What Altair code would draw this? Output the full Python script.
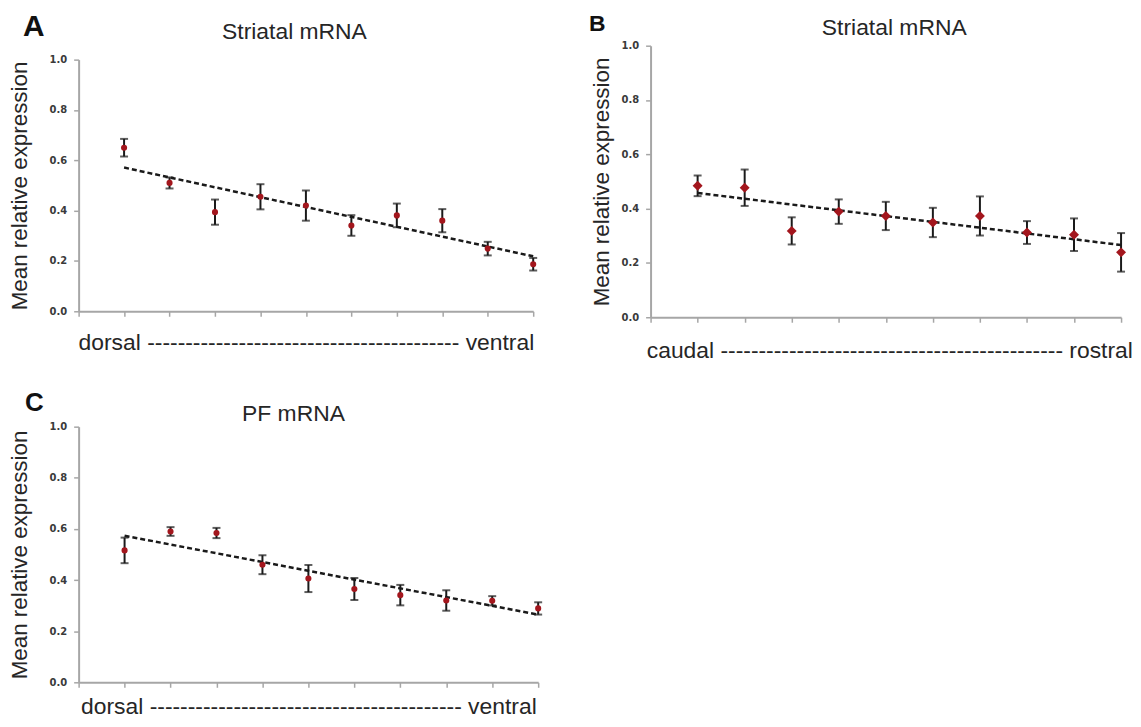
import altair as alt
import pandas as pd

# ---------------- data ----------------
positions = [1, 2, 3, 4, 5, 6, 7, 8, 9, 10]

a_mean = [0.650, 0.510, 0.394, 0.455, 0.420, 0.341, 0.381, 0.360, 0.249, 0.187]
a_err = [0.035, 0.022, 0.050, 0.050, 0.060, 0.041, 0.047, 0.046, 0.027, 0.025]

b_mean = [0.484, 0.477, 0.318, 0.389, 0.373, 0.349, 0.373, 0.312, 0.304, 0.239]
b_err = [0.038, 0.067, 0.050, 0.045, 0.052, 0.054, 0.072, 0.042, 0.060, 0.071]

c_mean = [0.516, 0.590, 0.584, 0.460, 0.406, 0.365, 0.341, 0.320, 0.319, 0.289]
c_err = [0.050, 0.017, 0.020, 0.037, 0.053, 0.043, 0.040, 0.040, 0.018, 0.024]

panel_letters = ["A", "B", "C"]
panel_titles = ["Striatal mRNA", "Striatal mRNA", "PF mRNA"]
x_titles = [
    "dorsal " + "-" * 41 + " ventral",
    "caudal " + "-" * 45 + " rostral",
    "dorsal " + "-" * 41 + " ventral",
]
y_title = "Mean relative expression"
y_ticks = [0.0, 0.2, 0.4, 0.6, 0.8, 1.0]
x_ticks = [0, 1, 2, 3, 4, 5, 6, 7, 8, 9, 10]

# ---------------- style ----------------
FONT = "Liberation Sans"
LABEL_FONT = "DejaVu Sans"
RED = "#a3161d"
INK = "#1a1a1a"
AXIS = "#a6a6a6"
TEXT = "#262626"


def x_axis(title, pad, title_x=None):
    kw = dict(values=x_ticks, labels=False, ticks=True, tickSize=5, tickColor=AXIS,
              tickWidth=1.5, domainColor=AXIS, domainWidth=2, grid=False, title=title,
              titleFont=FONT, titleFontSize=23, titleFontWeight="normal",
              titleColor=TEXT, titlePadding=pad)
    if title_x is not None:
        kw["titleX"] = title_x
    return alt.Axis(**kw)


def y_axis(pad):
    return alt.Axis(values=y_ticks, format=".1f", tickSize=5, tickColor=AXIS, tickWidth=1.5,
                    domainColor=AXIS, domainWidth=2, grid=False, labelFont=LABEL_FONT,
                    labelFontSize=10, labelFontWeight="bold", labelColor="#3a3a3a",
                    labelPadding=7, title=y_title, titleFont=FONT, titleFontSize=22.5,
                    titleFontWeight="normal", titleColor=TEXT, titlePadding=pad)


def text_layer(txt, x, y, size, weight, align, baseline):
    return alt.Chart(pd.DataFrame({"t": [txt]})).mark_text(
        font=FONT, fontSize=size, fontWeight=weight, color=TEXT if weight == "normal" else "#111111",
        align=align, baseline=baseline
    ).encode(text="t:N", x=alt.value(x), y=alt.value(y))


def panel(mean, err, shape, size, xtitle, xpad, ypad, w, h, extra, title_x=None):
    df = pd.DataFrame({"pos": positions, "mean": mean, "err": err})
    base = alt.Chart(df).transform_calculate(
        lo="datum.mean - datum.err", hi="datum.mean + datum.err")
    xs = alt.Scale(domain=[0, 10], nice=False, zero=False)
    ys = alt.Scale(domain=[0, 1], nice=False, zero=False)
    ax = x_axis(xtitle, xpad, title_x)
    ay = y_axis(ypad)

    def X():
        return alt.X("pos:Q", scale=xs, axis=ax)

    def Y(f):
        return alt.Y(f"{f}:Q", scale=ys, axis=ay)

    bars = base.mark_rule(color=INK, strokeWidth=2).encode(x=X(), y=Y("lo"), y2="hi:Q")
    caps = base.transform_fold(["lo", "hi"], as_=["end", "val"]).mark_tick(
        orient="horizontal", size=8, thickness=2, color=INK).encode(x=X(), y=Y("val"))
    trend = base.transform_regression("pos", "mean").mark_line(
        color=INK, strokeWidth=2.5, strokeDash=[5, 3]).encode(x=X(), y=Y("mean"))
    pts = base.mark_point(shape=shape, size=size, filled=True, color=RED, opacity=1).encode(
        x=X(), y=Y("mean"))
    return alt.layer(bars, caps, trend, pts, *extra).properties(width=w, height=h)


# Panel A: header (letter + title) sits above the plot
header_a = alt.layer(
    text_layer(panel_letters[0], -56, -34, 30, "bold", "left", "top"),
    text_layer(panel_titles[0], 217, -7, 23, "normal", "center", "alphabetic"),
).properties(width=457, height=1)

chart_a = panel(a_mean, a_err, "circle", 38, x_titles[0], 15, 18, 457, 253, [])

chart_b = panel(b_mean, b_err, "diamond", 100, x_titles[1], 17, 8, 473, 273, [
    text_layer(panel_letters[1], -62, -33, 23, "bold", "left", "top"),
    text_layer(panel_titles[1], 245, -11, 23, "normal", "center", "alphabetic"),
], title_x=240)

chart_c = panel(c_mean, c_err, "circle", 38, x_titles[2], 8, 18, 462, 257, [
    text_layer(panel_letters[2], -54, -37, 26, "bold", "left", "top"),
    text_layer(panel_titles[2], 216, -6, 23, "normal", "center", "alphabetic"),
])

col_a = alt.vconcat(alt.vconcat(header_a, chart_a, spacing=8), chart_c, spacing=35)

chart = alt.hconcat(col_a, chart_b, spacing=46).properties(
    padding={"left": 0, "top": 2, "right": 0, "bottom": 0}
).configure_view(stroke=None)

chart.save("out.html", embed_options={"renderer": "svg", "actions": False})
